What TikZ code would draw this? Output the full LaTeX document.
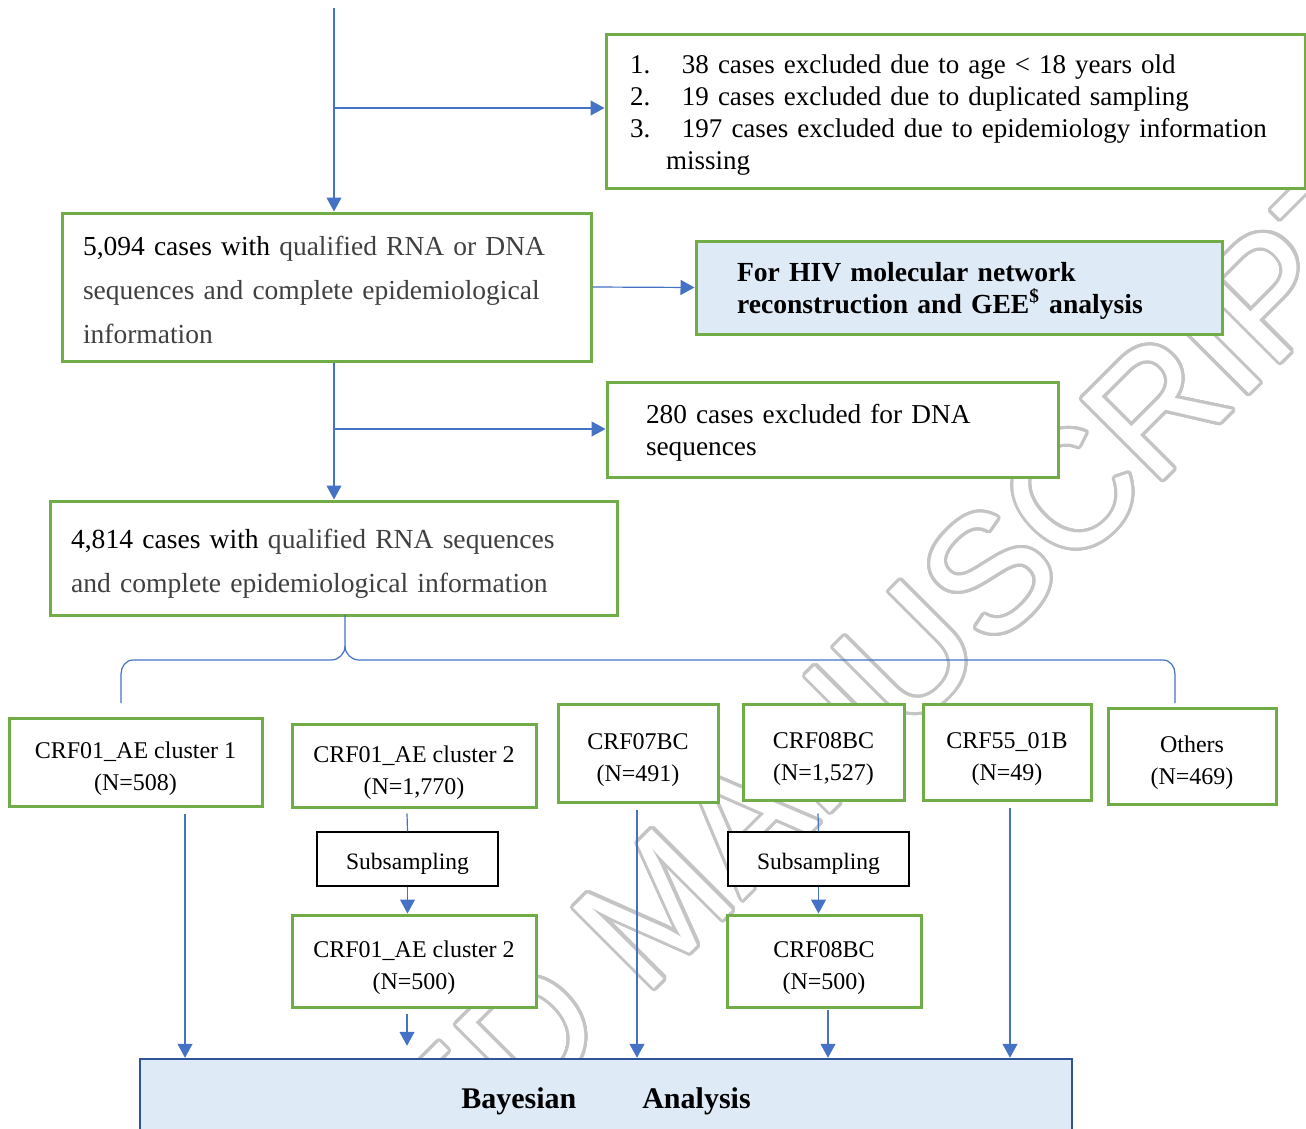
\documentclass[tikz,border=0pt]{standalone}
\usepackage{fontspec}
\setmainfont{Liberation Serif}
\newfontfamily\wmfont{Liberation Sans}
\usepackage{contour}
\usepackage{tikz}
\usetikzlibrary{arrows.meta}

\definecolor{lineblue}{HTML}{4472C4}
\definecolor{boxgreen}{HTML}{70AD47}
\definecolor{fillblue}{HTML}{DEEBF7}
\definecolor{bayesblue}{HTML}{2F5597}
\definecolor{txtgray}{HTML}{404040}
\definecolor{wmgray}{HTML}{C4C4C4}
\contourlength{1.5pt}
\contournumber{32}
\newcommand{\lift}[1]{\rule{0pt}{#1}}

\begin{document}
\begin{tikzpicture}[x=0.5pt, y=-0.5pt,
    box/.style={draw=boxgreen, line width=1.5pt, fill=white, inner sep=0pt},
    crf/.style={box, align=center, font=\fontsize{12}{16}\selectfont},
    subbox/.style={draw=black, line width=0.75pt, fill=white, inner sep=0pt,
      font=\fontsize{11.75}{14}\selectfont, execute at begin node=\lift{13pt}},
    link/.style={draw=lineblue, line width=0.6pt},
    arr/.style={link, -{Triangle[length=7pt, width=7.5pt]}},
    wm/.style={font=\wmfont\fontsize{83}{83}\selectfont, inner sep=0pt}]

    \useasboundingbox (0,0) rectangle (1306,1129);

    % Watermark
    \node[wm, anchor=base west, rotate=45] (wmark) at (-27,1670)
      {\contour{wmgray}{\textcolor{white}{ACCEPTED MANUSCRIPT}}};

    % Nodes
    \coordinate (top) at (334,8);
    \coordinate (b1) at (334,108);
    \coordinate (b2) at (334,429);
    \coordinate (tip) at (345,615);
    \coordinate (bl) at (121,703);
    \coordinate (br) at (1175,703);

    \node[box, minimum width=349.5pt, minimum height=76.5pt, text width=325.5pt,
      inner xsep=12pt, align=left, font=\fontsize{13.5}{16}\selectfont] (excl1) at (955.5,111.5)
      {\lift{13.2pt}\mbox{\makebox[26pt][l]{1.}38 cases excluded due to age < 18 years old}\\
       \mbox{\makebox[26pt][l]{2.}19 cases excluded due to duplicated sampling}\\
       \mbox{\makebox[26pt][l]{3.}197 cases excluded due to epidemiology information}\\
       \hspace*{18pt}missing};
    \node[box, minimum width=264.5pt, minimum height=74pt, text width=243.5pt,
      inner xsep=10.5pt, align=left, font=\fontsize{13.75}{22}\selectfont] (n5094) at (326.5,287)
      {\lift{12.4pt}5,094 cases with {\color{txtgray}qualified RNA or DNA\\
       sequences and complete epidemiological\\
       information}};
    \node[box, fill=fillblue, minimum width=263pt, minimum height=46.5pt, text width=222pt,
      inner xsep=20.5pt, align=left, font=\fontsize{13.8}{16}\selectfont\bfseries] (hiv) at (959,287.5)
      {\lift{12.5pt}For HIV molecular network\\
       reconstruction and GEE\textsuperscript{\$} analysis};
    \node[box, minimum width=225.5pt, minimum height=47.5pt, text width=186.5pt,
      inner xsep=19.5pt, align=left, font=\fontsize{13.65}{16}\selectfont] (excl2) at (832.5,429.5)
      {\lift{13.4pt}280 cases excluded for DNA\\
       sequences};
    \node[box, minimum width=283.5pt, minimum height=57pt, text width=262.5pt,
      inner xsep=10.5pt, align=left, font=\fontsize{13.8}{22}\selectfont] (n4814) at (333.5,558)
      {\lift{15.4pt}4,814 cases with {\color{txtgray}qualified RNA sequences\\
       and complete epidemiological information}};

    \node[crf, minimum width=126.5pt, minimum height=44pt] (c1) at (135.5,762)
      {\lift{15.2pt}CRF01\_AE cluster 1\\ (N=508)};
    \node[crf, minimum width=122pt, minimum height=41.5pt] (c2) at (414,765.5)
      {\lift{15.2pt}CRF01\_AE cluster 2\\ (N=1,770)};
    \node[crf, minimum width=80pt, minimum height=49pt] (c3) at (638,753)
      {\lift{15.2pt}CRF07BC\\ (N=491)};
    \node[crf, minimum width=80.5pt, minimum height=48pt] (c4) at (823.5,752)
      {\lift{15.2pt}CRF08BC\\ (N=1,527)};
    \node[crf, minimum width=84pt, minimum height=48pt] (c5) at (1007,752)
      {\lift{15.2pt}CRF55\_01B\\ (N=49)};
    \node[crf, minimum width=84pt, minimum height=48pt] (c6) at (1192,756)
      {\lift{15.2pt}Others\\ (N=469)};

    \node[subbox, minimum width=90.5pt, minimum height=27pt] (sub1) at (407.5,859) {Subsampling};
    \node[subbox, minimum width=90.5pt, minimum height=27pt] (sub2) at (818.5,859) {Subsampling};

    \node[crf, minimum width=122pt, minimum height=46pt] (d1) at (414,961)
      {\lift{15.2pt}CRF01\_AE cluster 2\\ (N=500)};
    \node[crf, minimum width=97pt, minimum height=46pt] (d2) at (824,961)
      {\lift{15.2pt}CRF08BC\\ (N=500)};

    \node[draw=bayesblue, line width=1.25pt, fill=fillblue, minimum width=466pt, minimum height=39pt,
      font=\fontsize{15}{18}\selectfont\bfseries] (bayes) at (606,1098)
      {\lift{14pt}Bayesian\hspace{33pt}Analysis};

    % Edges (Lines)
    \draw[arr] (top) -- (top |- n5094.north);
    \draw[arr] (b1) -- (b1 -| excl1.west);
    \draw[arr] (n5094.east) -- (hiv.west);
    \draw[arr] (n5094.south -| top) -- (n4814.north -| top);
    \draw[arr] (b2) -- (b2 -| excl2.west);

    \draw[link] (bl) -- (121,674) to[out=90, in=180] (133,660) -- (331,660)
      to[out=0, in=-90] (345,646) -- (tip);
    \draw[link] (345,646) to[out=-90, in=180] (359,660) -- (1163,660)
      to[out=0, in=90] (1175,674) -- (br);

    \draw[arr] ([shift={(49.5,6)}]c1.south) -- ([xshift=-210.5pt]bayes.north);
    \draw[link] ([shift={(-7,5)}]c2.south) -- (sub1.north);
    \draw[arr] (sub1.south) -- (sub1.south |- d1.north);
    \draw[arr] ([shift={(-7,5)}]d1.south) -- ([shift={(-199,-12)}]bayes.north);
    \draw[arr] ([shift={(-1,6)}]c3.south) -- ([xshift=15.5pt]bayes.north);
    \draw[link] ([shift={(-5.5,12)}]c4.south) -- (sub2.north);
    \draw[arr] (sub2.south) -- (sub2.south |- d2.north);
    \draw[arr] ([shift={(4,1)}]d2.south) -- ([xshift=111pt]bayes.north);
    \draw[arr] ([shift={(3,6)}]c5.south) -- ([xshift=202pt]bayes.north);

\end{tikzpicture}
\end{document}
